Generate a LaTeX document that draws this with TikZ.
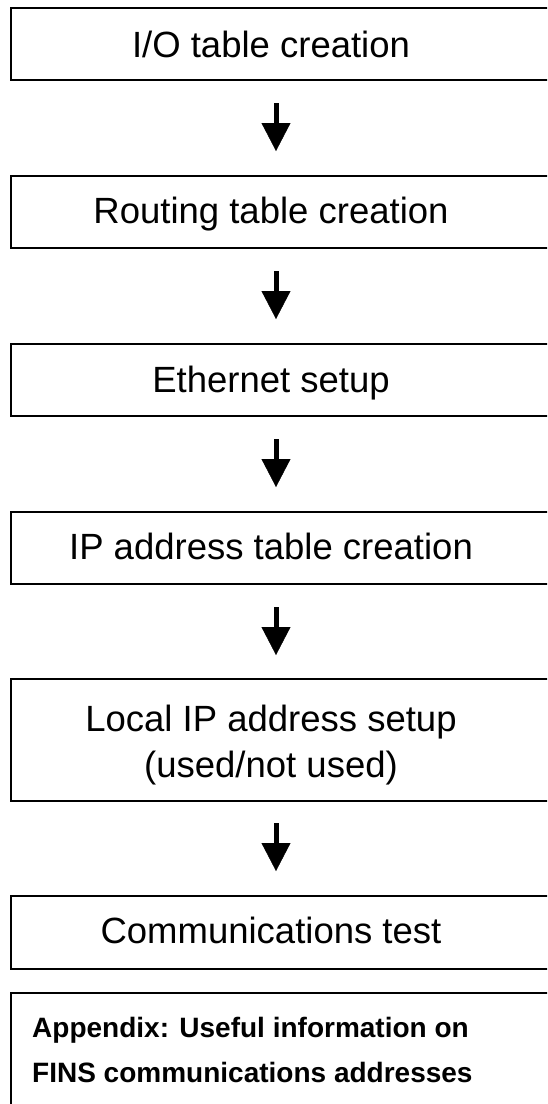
\documentclass[tikz,border=0pt]{standalone}
\usepackage{fontspec}
\setmainfont{Liberation Sans}
\usetikzlibrary{arrows.meta}
\begin{document}
\begin{tikzpicture}[x=1pt,y=-1pt,
  stepbox/.style={draw=black, line width=2pt, rectangle, anchor=north west,
    inner sep=0pt, minimum width=600pt},
  steptext/.style={anchor=base, inner sep=0pt, align=center,
    font=\fontsize{36.5}{46}\selectfont},
  notetext/.style={anchor=base west, inner sep=0pt, align=left,
    font=\bfseries\fontsize{28}{45}\selectfont},
  flow/.style={line width=5pt, -{Triangle[width=29pt,length=28pt,line width=0.4pt]}}
]
\useasboundingbox (0,0) rectangle (547,1104);
\clip (0,0) rectangle (547,1104);

\node[stepbox, minimum height=72pt] (b1) at (10,7) {};
\node[stepbox, minimum height=72pt] (b2) at (10,175) {};
\node[stepbox, minimum height=72pt] (b3) at (10,343) {};
\node[stepbox, minimum height=72pt] (b4) at (10,511) {};
\node[stepbox, minimum height=122pt] (b5) at (10,678) {};
\node[stepbox, minimum height=73pt] (b6) at (10,895) {};
\node[stepbox, minimum height=200pt] (b7) at (10,992) {};

\node[steptext] (t1) at (271,57) {I/O table creation};
\node[steptext] (t2) at (271,223) {Routing table creation};
\node[steptext] (t3) at (271,392) {Ethernet setup};
\node[steptext] (t4) at (271,559) {IP address table creation};
% anchor=base of a multi-line node is the baseline of its last line
\node[steptext] (t5) at (271,777) {Local IP address setup\\(used/not used)};
\node[steptext] (t6) at (271,943) {Communications test};
\node[notetext] (t7) at (32,1082) {Appendix: Useful information on\\FINS communications addresses};

\coordinate (a1s) at (276,103); \coordinate (a1e) at (276,151);
\coordinate (a2s) at (276,271); \coordinate (a2e) at (276,319);
\coordinate (a3s) at (276,439); \coordinate (a3e) at (276,487);
\coordinate (a4s) at (276,607); \coordinate (a4e) at (276,655);
\coordinate (a5s) at (276,823); \coordinate (a5e) at (276,871);

\draw[flow] (a1s) -- (a1e);
\draw[flow] (a2s) -- (a2e);
\draw[flow] (a3s) -- (a3e);
\draw[flow] (a4s) -- (a4e);
\draw[flow] (a5s) -- (a5e);
\end{tikzpicture}
\end{document}
